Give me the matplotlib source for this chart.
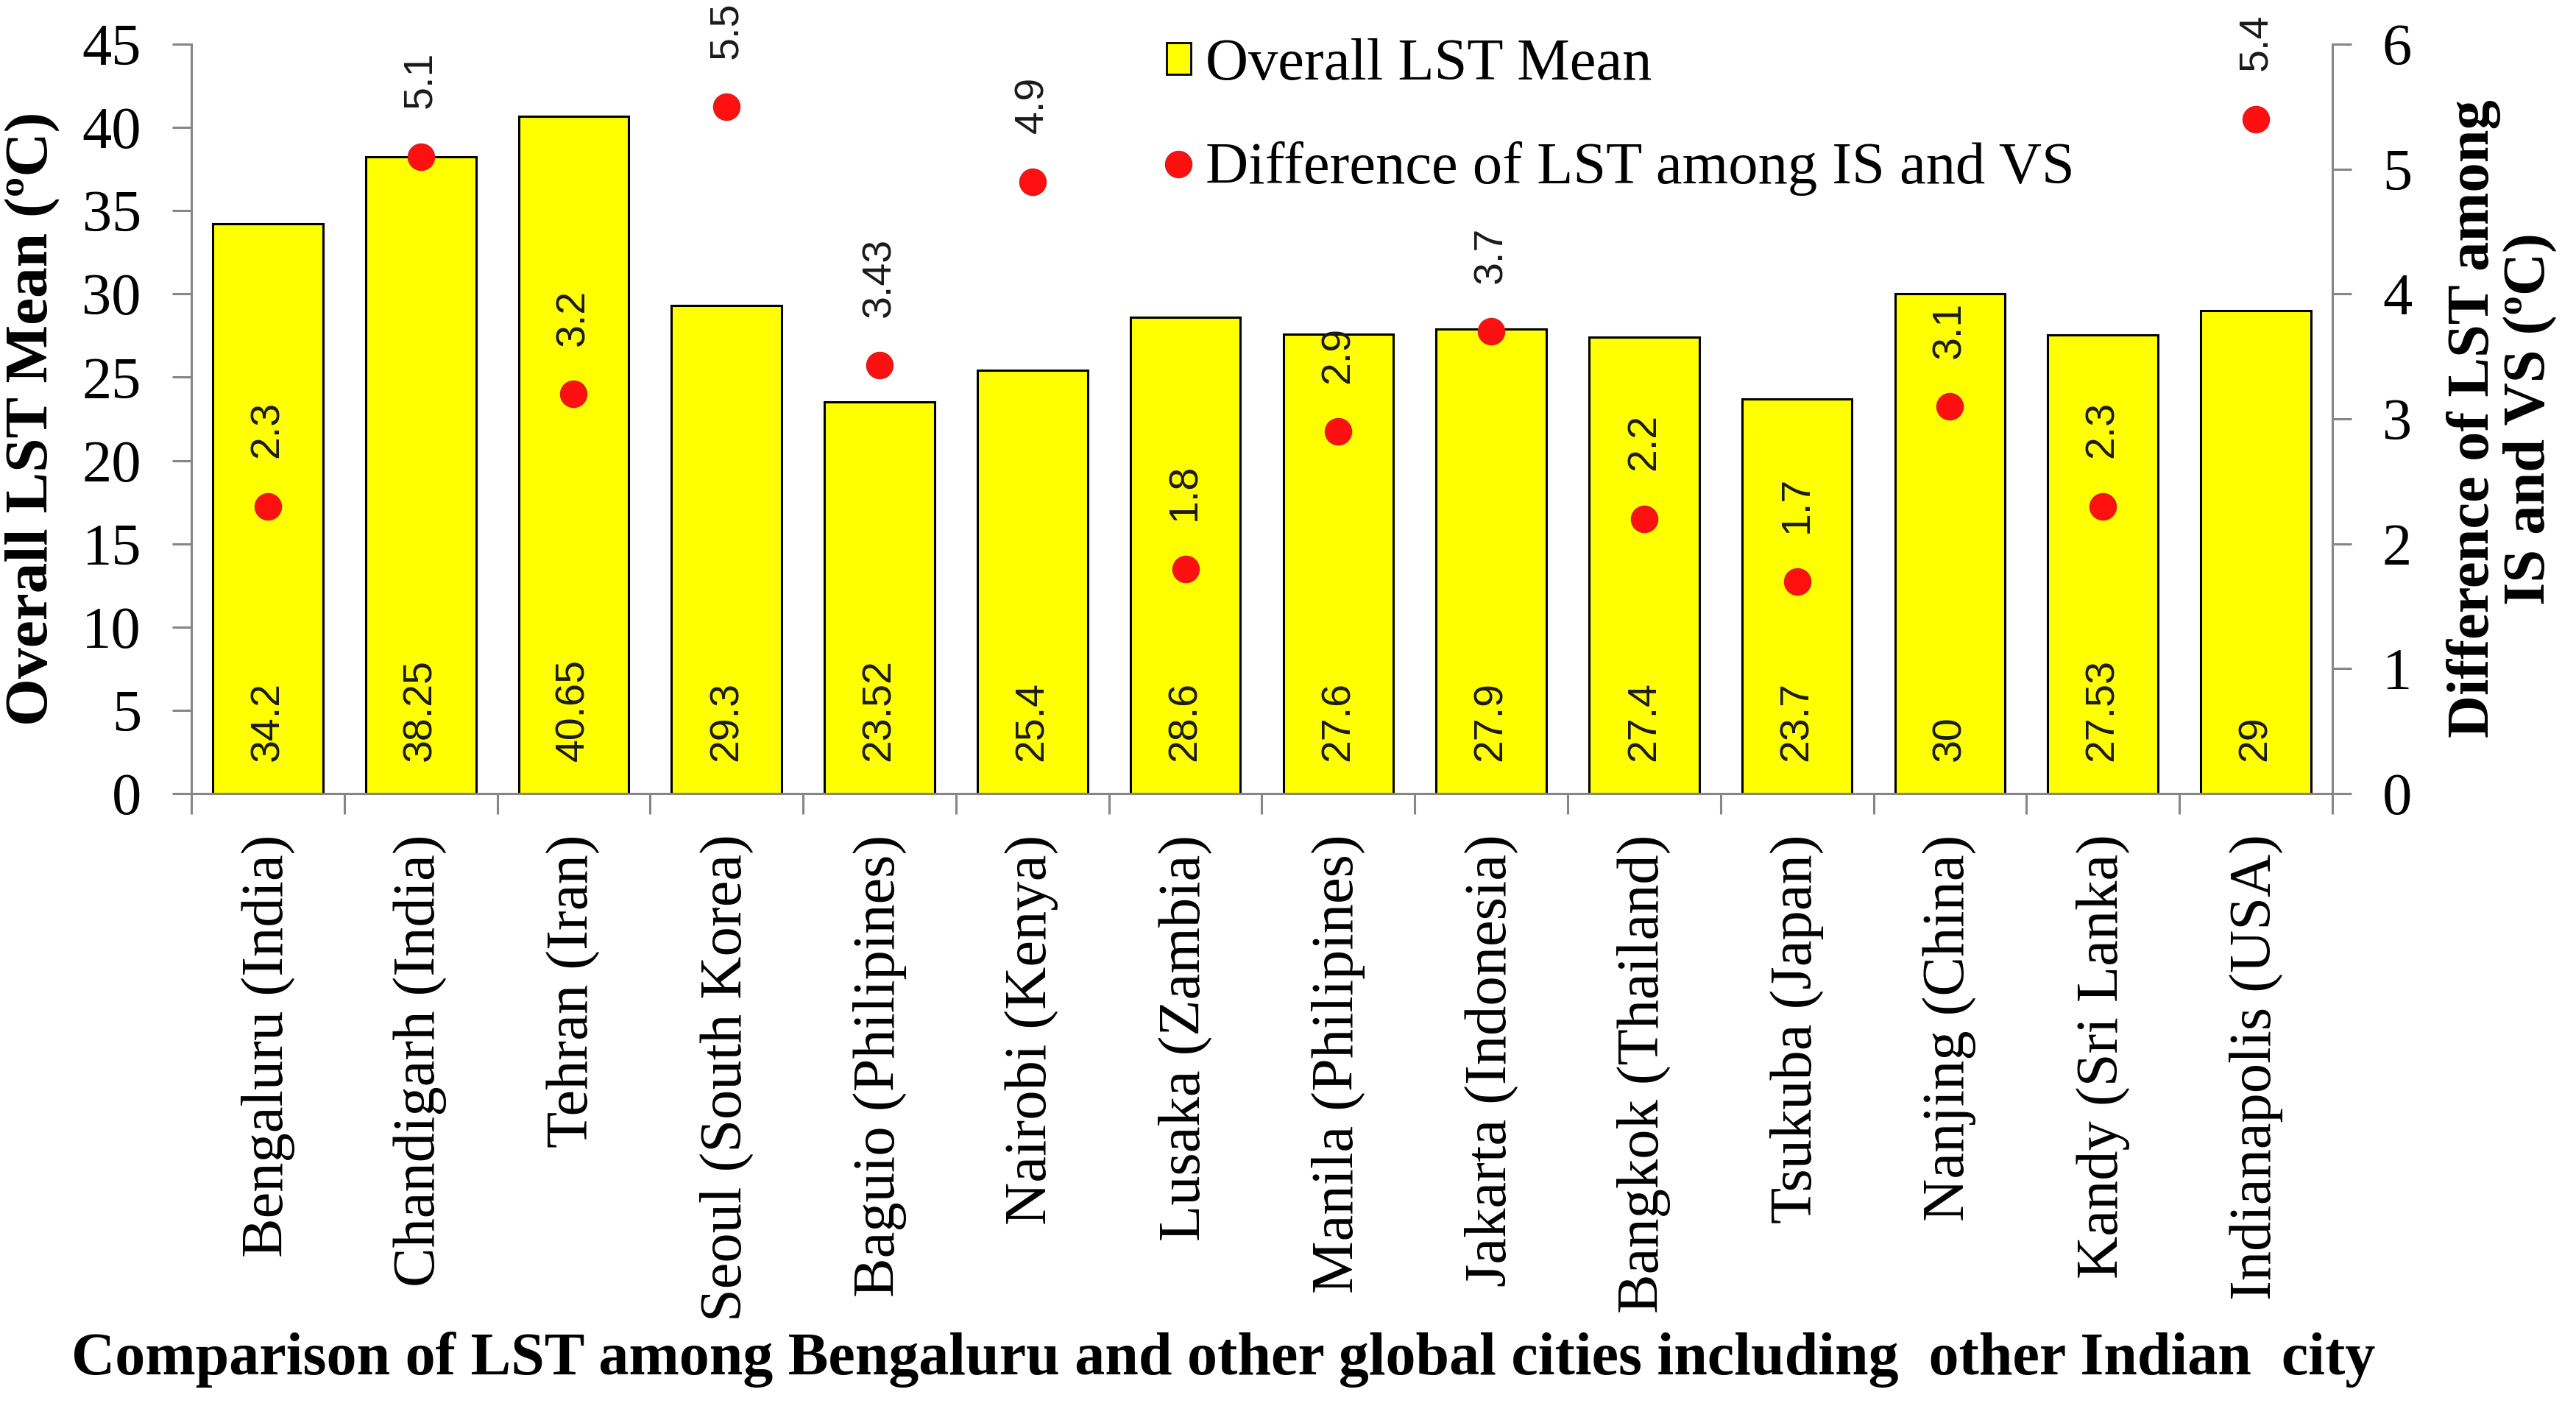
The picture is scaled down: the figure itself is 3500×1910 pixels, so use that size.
import numpy as np
import matplotlib
matplotlib.use("Agg")
import matplotlib.pyplot as plt
from matplotlib.lines import Line2D
from matplotlib.patches import Patch

cities = ["Bengaluru (India)", "Chandigarh (India)", "Tehran (Iran)", "Seoul (South Korea)",
          "Baguio (Philipines)", "Nairobi (Kenya)", "Lusaka (Zambia)", "Manila (Philipines)",
          "Jakarta (Indonesia)", "Bangkok (Thailand)", "Tsukuba (Japan)", "Nanjing (China)",
          "Kandy (Sri Lanka)", "Indianapolis (USA)"]
lst_mean = [34.2, 38.25, 40.65, 29.3, 23.52, 25.4, 28.6, 27.6, 27.9, 27.4, 23.7, 30, 27.53, 29]
lst_mean_labels = ["34.2", "38.25", "40.65", "29.3", "23.52", "25.4", "28.6", "27.6", "27.9",
                   "27.4", "23.7", "30", "27.53", "29"]
lst_diff = [2.3, 5.1, 3.2, 5.5, 3.43, 4.9, 1.8, 2.9, 3.7, 2.2, 1.7, 3.1, 2.3, 5.4]
lst_diff_labels = ["2.3", "5.1", "3.2", "5.5", "3.43", "4.9", "1.8", "2.9", "3.7", "2.2",
                   "1.7", "3.1", "2.3", "5.4"]
left_ticks = [0, 5, 10, 15, 20, 25, 30, 35, 40, 45]
right_ticks = [0, 1, 2, 3, 4, 5, 6]

SERIF = ["Liberation Serif", "DejaVu Serif"]
SANS = ["Liberation Sans", "DejaVu Sans"]
GREY = "#868686"

plt.rcParams["font.family"] = SERIF

fig = plt.figure(figsize=(35, 19.1), dpi=100)
ax = fig.add_axes([0.0743, 0.4356, 0.8311, 0.533])
x = np.arange(len(cities))

bars = ax.bar(x, lst_mean, width=0.72, color="#FFFF00", edgecolor="black", linewidth=2.2, zorder=2)
ax.set_xlim(-0.5, len(cities) - 0.5)
ax.set_ylim(0, 45)
ax.set_yticks(left_ticks)

for xi, lab in zip(x, lst_mean_labels):
    ax.annotate(lab, (xi, 0), xytext=(0, 32), textcoords="offset points",
                rotation=90, ha="center", va="bottom", fontsize=40,
                family=SANS, color="#1a1a1a", zorder=3)

ax2 = ax.twinx()
ax2.set_ylim(0, 6)
ax2.set_yticks(right_ticks)
ax2.scatter(x, lst_diff, s=26 ** 2, color="#FF1010", edgecolor="#d02020", linewidth=1, zorder=4)
for xi, v, lab in zip(x, lst_diff, lst_diff_labels):
    ax2.annotate(lab, (xi, v), xytext=(0, 47), textcoords="offset points",
                 rotation=90, ha="center", va="bottom", fontsize=40,
                 family=SANS, color="#1a1a1a")

# x axis ticks / labels
ax.set_xticks(x)
ax.set_xticklabels(cities, rotation=90, fontsize=58, family=SERIF)
ax.set_xticks(np.arange(-0.5, len(cities), 1), minor=True)
ax.tick_params(axis="x", which="major", length=0, pad=40, colors="black")
ax.tick_params(axis="x", which="minor", length=20, width=2.2, color=GREY)
ax.tick_params(axis="y", which="major", direction="out", length=19, width=2.2,
               color=GREY, labelsize=58, pad=30, labelcolor="black")
ax2.tick_params(axis="y", which="major", direction="out", length=19, width=2.2,
                color=GREY, labelsize=58, pad=30, labelcolor="black")
for t in ax.get_yticklabels() + ax2.get_yticklabels():
    t.set_family(SERIF)

for a in (ax, ax2):
    a.spines["top"].set_visible(False)
    for s in a.spines.values():
        s.set_color(GREY)
        s.set_linewidth(2.2)
ax.spines["right"].set_visible(False)
ax2.spines["left"].set_visible(False)
ax2.spines["bottom"].set_visible(False)

ax.set_ylabel("Overall LST Mean (ºC)", fontsize=60, fontweight="bold", family=SERIF, va="center")
ax.yaxis.set_label_coords(-0.074, 0.5)
ax2.set_ylabel("Difference of LST among\nIS and VS (ºC)", fontsize=58, fontweight="bold",
               family=SERIF, va="center", rotation=90, linespacing=1.05)
ax2.yaxis.set_label_coords(1.079, 0.5)

fig.text(0.475, 0.033, "Comparison of LST among Bengaluru and other global cities including  other Indian  city",
         fontsize=59, fontweight="bold", family=SERIF, ha="center", va="center")

handles = [Patch(facecolor="#FFFF00", edgecolor="black", linewidth=2),
           Line2D([], [], marker="o", linestyle="none", markersize=26,
                  markerfacecolor="#FF1010", markeredgecolor="#d02020")]
leg = fig.legend(handles, ["Overall LST Mean", "Difference of LST among IS and VS"],
                 loc="upper left", bbox_to_anchor=(1533 / 3500, 1 - 0 / 1910),
                 frameon=False, handlelength=0.4, handleheight=0.45,
                 handletextpad=0.25, labelspacing=0.82, borderpad=0.15,
                 prop={"family": SERIF, "size": 58})

fig.savefig("out.png", dpi=100)
